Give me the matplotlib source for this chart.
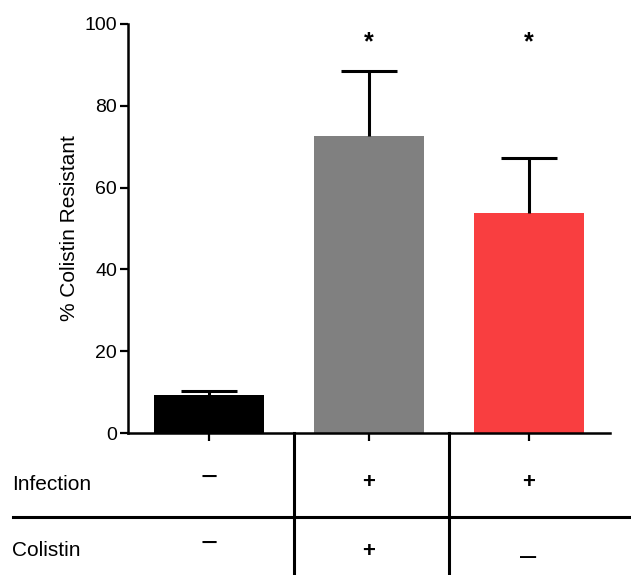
import matplotlib.pyplot as plt
import matplotlib.transforms as mtransforms

plt.rcParams['font.family'] = ['Liberation Sans', 'DejaVu Sans']

# data
groups = ['ctrl', 'inf_col', 'inf']
means = [9.3, 72.6, 53.8]
errs = [1.0, 15.9, 13.4]
colors = ['#000000', '#808080', '#f93e40']
stars = ['', '*', '*']
infection = ['\u2212', '+', '+']
colistin = ['\u2212', '+', '\u2013']

fig = plt.figure(figsize=(6.31, 5.75), dpi=100)
ax = fig.add_axes([128 / 631, (575 - 433) / 575, (610 - 128) / 631, (433 - 24) / 575])

x = list(range(len(groups)))
ax.bar(x, means, width=0.69, color=colors, zorder=2)
# upper error bars only
tops = [m + e for m, e in zip(means, errs)]
ax.vlines(x, means, tops, color='black', lw=2.2, zorder=3)
ax.hlines(tops, [xi - 0.175 for xi in x], [xi + 0.175 for xi in x],
          color='black', lw=2.2, zorder=3)
for xi, s in zip(x, stars):
    if s:
        ax.text(xi, 95.5, s, ha='center', va='center', fontsize=18, fontweight='bold')

ax.set_xlim(-0.51, 2.51)
ax.set_ylim(0, 100)
ax.set_yticks([0, 20, 40, 60, 80, 100])
ax.set_xticks(x)
ax.set_xticklabels([])
ax.tick_params(axis='both', width=1.6, length=6, labelsize=14, pad=2)
ax.set_ylabel('% Colistin Resistant', fontsize=15, labelpad=4)
for side in ['top', 'right']:
    ax.spines[side].set_visible(False)
for side in ['left', 'bottom']:
    ax.spines[side].set_linewidth(1.8)

# table under the axis
trans = mtransforms.blended_transform_factory(ax.transData, ax.transAxes)
for xv in [0.53, 1.5]:
    ax.plot([xv, xv], [0, -0.35], color='black', lw=2.2, transform=trans, clip_on=False)
fig.add_artist(plt.Line2D([13 / 631, 1.0], [1 - 517 / 575] * 2, color='black', lw=2.2,
                          transform=fig.transFigure))

fig.text(12 / 631, 1 - 484 / 575, 'Infection', fontsize=15, va='center', ha='left')
fig.text(12 / 631, 1 - 551 / 575, 'Colistin', fontsize=15, va='center', ha='left')
row1_y = [-0.11, -0.122, -0.122]
row2_y = [-0.272, -0.29, -0.302]
for xi, s, yy in zip(x, infection, row1_y):
    ax.text(xi, yy, s, transform=trans, ha='center', va='center',
            fontsize=16 if s == '+' else 21,
            fontweight='bold' if s == '+' else 'normal')
for xi, s, yy in zip(x, colistin, row2_y):
    ax.text(xi, yy, s, transform=trans, ha='center', va='center',
            fontsize=16 if s == '+' else 21,
            fontweight='bold' if s == '+' else 'normal')

fig.savefig('out.png', dpi=100)
